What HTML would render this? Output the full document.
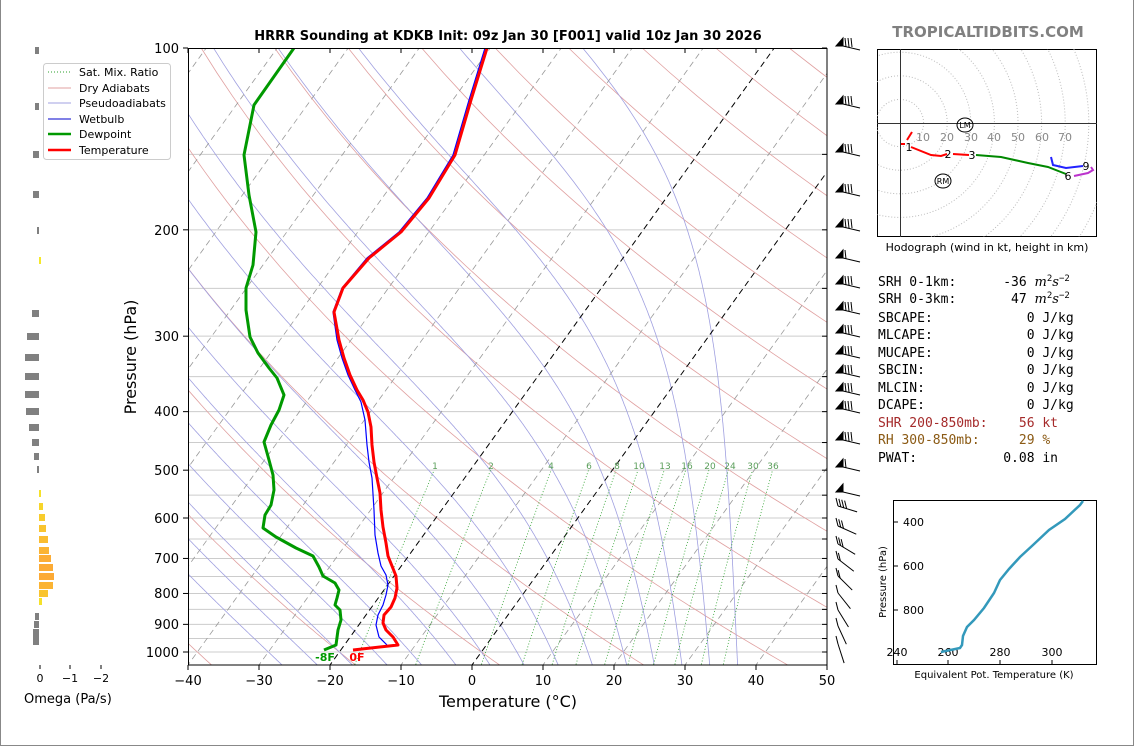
<!DOCTYPE html>
<html><head><meta charset="utf-8"><style>
body{margin:0;background:#fff;}
#wrap{position:relative;width:1132px;height:745px;border-right:1px solid #888;border-bottom:1px solid #888;border-left:1px solid #888;overflow:hidden;background:#fff}
svg{position:absolute;left:0;top:0}
text{font-family:"DejaVu Sans","Liberation Sans",sans-serif}
text.mono{font-family:"DejaVu Sans Mono","Liberation Mono",monospace;font-size:13px}
</style></head><body><div id="wrap">
<svg id="s" width="1134" height="748" viewBox="0 0 1134 748">
<defs><clipPath id="cp"><rect x="187" y="48" width="639" height="617"/></clipPath>
<clipPath id="hc"><rect x="876" y="49" width="220" height="188"/></clipPath></defs>
<g id="bg" clip-path="url(#cp)"></g>
<g clip-path="url(#cp)" fill="none" stroke-linejoin="round">
<polyline stroke="#0000ff" stroke-width="1.2" points="386,645 378,637 375,625 377,615 382,605 385,595 387,585 385,575 380,566 377,553 374,535 373,510 371,478 368,462 366,445 364,420 360,402 354,390 347,375 341,358 336,340 332,312 341,288 366,258 398,232 426,198 452,155 468,100 484,48"/>
<polyline stroke="#009900" stroke-width="3" points="323,650 335,645 337,630 340,620 339,610 334,605 336,598 338,590 334,583 322,576 318,567 312,556 295,548 275,537 262,528 264,515 270,505 273,490 272,475 268,460 263,442 270,425 278,410 283,395 276,378 268,368 257,353 249,337 245,310 245,288 252,265 255,232 248,195 243,155 253,105 293,48"/>
<polyline stroke="#ff0000" stroke-width="3" points="352,650 397,645 392,637 385,630 382,623 383,615 390,607 394,598 396,588 395,576 391,566 387,556 385,543 382,527 380,510 379,493 376,478 373,462 371,445 370,427 367,412 362,400 356,390 349,375 343,358 338,340 333,312 342,288 368,258 400,232 428,198 454,155 470,100 486,48"/>
</g>
<rect x="187.5" y="48.5" width="638.5" height="616.5" fill="none" stroke="#000" stroke-width="1"/>
<g id="ticks" stroke="#000"></g>
<g font-size="13" text-anchor="end" fill="#000">
<text x="178" y="53">100</text><text x="178" y="235">200</text><text x="178" y="341">300</text><text x="178" y="416">400</text><text x="178" y="475">500</text><text x="178" y="523">600</text><text x="178" y="563">700</text><text x="178" y="598">800</text><text x="178" y="629">900</text><text x="178" y="657">1000</text>
</g>
<g font-size="13" text-anchor="middle">
<text x="187" y="685">−40</text><text x="258" y="685">−30</text><text x="329" y="685">−20</text><text x="400" y="685">−10</text><text x="471" y="685">0</text><text x="542" y="685">10</text><text x="613" y="685">20</text><text x="684" y="685">30</text><text x="755" y="685">40</text><text x="826" y="685">50</text>
</g>
<text x="507" y="707" font-size="16" text-anchor="middle">Temperature (°C)</text>
<text transform="translate(135,357) rotate(-90)" font-size="16" text-anchor="middle">Pressure (hPa)</text>
<text x="507" y="40" font-size="13" font-weight="bold" text-anchor="middle">HRRR Sounding at KDKB Init: 09z Jan 30 [F001] valid 10z Jan 30 2026</text>
<g font-size="9" fill="#5a9e5a" text-anchor="middle">
<text x="434" y="469">1</text><text x="490" y="469">2</text><text x="550" y="469">4</text><text x="588" y="469">6</text><text x="616" y="469">8</text><text x="638" y="469">10</text><text x="664" y="469">13</text><text x="686" y="469">16</text><text x="709" y="469">20</text><text x="729" y="469">24</text><text x="752" y="469">30</text><text x="772" y="469">36</text>
</g>
<text x="324" y="661" font-size="11" font-weight="bold" fill="#009900" text-anchor="middle">-8F</text>
<text x="356" y="661" font-size="11" font-weight="bold" fill="#ff0000" text-anchor="middle">0F</text>
<rect x="42.5" y="63.5" width="127" height="96" rx="3" fill="#fff" stroke="#ccc"/>
<g font-size="11" fill="#000">
<line x1="47" y1="72" x2="70" y2="72" stroke="#2ca02c" stroke-dasharray="1,2"/><text x="78" y="76">Sat. Mix. Ratio</text>
<line x1="47" y1="88" x2="70" y2="88" stroke="#e0a0a0"/><text x="78" y="92">Dry Adiabats</text>
<line x1="47" y1="103" x2="70" y2="103" stroke="#a0a0e0"/><text x="78" y="107">Pseudoadiabats</text>
<line x1="47" y1="119" x2="70" y2="119" stroke="#0000cc"/><text x="78" y="123">Wetbulb</text>
<line x1="47" y1="134" x2="70" y2="134" stroke="#009900" stroke-width="2.5"/><text x="78" y="138">Dewpoint</text>
<line x1="47" y1="150" x2="70" y2="150" stroke="#ff0000" stroke-width="2.5"/><text x="78" y="154">Temperature</text>
</g>
<g id="omega"></g>
<g font-size="11" text-anchor="middle"><line x1="39" y1="665" x2="39" y2="669" stroke="#000"/><line x1="69" y1="665" x2="69" y2="669" stroke="#000"/><line x1="100" y1="665" x2="100" y2="669" stroke="#000"/>
<text x="39" y="682">0</text><text x="69" y="682">−1</text><text x="100" y="682">−2</text></g>
<text x="23" y="703" font-size="13">Omega (Pa/s)</text>
<g id="barbs" stroke="#000" fill="#000" stroke-width="1"></g>
<text x="987" y="37" font-size="15" font-weight="bold" fill="#808080" text-anchor="middle">TROPICALTIDBITS.COM</text>
<rect x="876.5" y="49.5" width="219" height="187" fill="#fff" stroke="#000"/>
<g id="rings" clip-path="url(#hc)" fill="none" stroke="#bbb" stroke-dasharray="1,2"></g>
<g clip-path="url(#hc)">
<line x1="899.5" y1="49" x2="899.5" y2="237" stroke="#333"/><line x1="876" y1="123.5" x2="1096" y2="123.5" stroke="#333"/>
<g font-size="11" fill="#888" text-anchor="middle"><text x="922" y="141">10</text><text x="946" y="141">20</text><text x="970" y="141">30</text><text x="993" y="141">40</text><text x="1017" y="141">50</text><text x="1041" y="141">60</text><text x="1064" y="141">70</text></g>
<g fill="none" stroke-width="2">
<polyline stroke="#ff0000" points="911,132 906,140"/><polyline stroke="#ff0000" points="900,144 904,144"/>
<polyline stroke="#ff0000" points="910,147 930,155 940,156 946,154"/><polyline stroke="#ff0000" points="952,154 968,155"/>
<polyline stroke="#008800" points="975,155 1000,157 1027,163 1047,167 1065,174"/>
<polyline stroke="#bb33cc" points="1073,176 1087,173 1092,170 1090,167"/>
<polyline stroke="#2222ff" points="1050,157 1052,165 1065,168 1082,166"/>
</g>
<g font-size="11" text-anchor="middle"><text x="908" y="151">1</text><text x="947" y="158">2</text><text x="971" y="159">3</text><text x="1067" y="180">6</text><text x="1085" y="170">9</text></g>
<ellipse cx="964" cy="125" rx="8" ry="7" fill="none" stroke="#000"/><text x="964" y="128" font-size="8" text-anchor="middle">LM</text>
<ellipse cx="942" cy="181" rx="8" ry="7" fill="none" stroke="#000"/><text x="942" y="184" font-size="8" text-anchor="middle">RM</text>
</g>
<text x="986" y="251" font-size="11" text-anchor="middle">Hodograph (wind in kt, height in km)</text>
<g fill="#000">
<text class="mono" x="877" y="286" xml:space="preserve">SRH 0-1km:      -36 <tspan font-style="italic" font-family="DejaVu Serif,serif">m</tspan><tspan font-size="9" dy="-5">2</tspan><tspan font-style="italic" font-family="DejaVu Serif,serif" dy="5">s</tspan><tspan font-size="9" dy="-5">−2</tspan></text>
<text class="mono" x="877" y="303" xml:space="preserve">SRH 0-3km:       47 <tspan font-style="italic" font-family="DejaVu Serif,serif">m</tspan><tspan font-size="9" dy="-5">2</tspan><tspan font-style="italic" font-family="DejaVu Serif,serif" dy="5">s</tspan><tspan font-size="9" dy="-5">−2</tspan></text>
<text class="mono" x="877" y="322" xml:space="preserve">SBCAPE:            0 J/kg</text>
<text class="mono" x="877" y="339" xml:space="preserve">MLCAPE:            0 J/kg</text>
<text class="mono" x="877" y="357" xml:space="preserve">MUCAPE:            0 J/kg</text>
<text class="mono" x="877" y="374" xml:space="preserve">SBCIN:             0 J/kg</text>
<text class="mono" x="877" y="392" xml:space="preserve">MLCIN:             0 J/kg</text>
<text class="mono" x="877" y="409" xml:space="preserve">DCAPE:             0 J/kg</text>
<text class="mono" x="877" y="427" xml:space="preserve" fill="#a52a2a">SHR 200-850mb:    56 kt</text>
<text class="mono" x="877" y="444" xml:space="preserve" fill="#8b5a14">RH 300-850mb:     29 %</text>
<text class="mono" x="877" y="462" xml:space="preserve">PWAT:           0.08 in</text>
</g>
<rect x="892.5" y="500.5" width="203" height="164" fill="#fff" stroke="#000"/>
<g stroke="#000"><line x1="893" y1="522" x2="897" y2="522"/><line x1="893" y1="566" x2="897" y2="566"/><line x1="893" y1="610" x2="897" y2="610"/>
<line x1="896" y1="660" x2="896" y2="664"/><line x1="947" y1="660" x2="947" y2="664"/><line x1="999" y1="660" x2="999" y2="664"/><line x1="1051" y1="660" x2="1051" y2="664"/></g>
<g font-size="11"><text x="902" y="526">400</text><text x="902" y="570">600</text><text x="902" y="614">800</text>
<g text-anchor="middle"><text x="896" y="656">240</text><text x="947" y="656">260</text><text x="999" y="656">280</text><text x="1051" y="656">300</text></g></g>
<polyline fill="none" stroke="#3399bb" stroke-width="2.5" points="940,652 959,648 961,645 962,636 966,627 973,620 983,608 993,593 999,580 1008,569 1019,557 1032,545 1048,530 1064,519 1079,505 1082,501"/>
<text transform="translate(885,582) rotate(-90)" font-size="10" text-anchor="middle">Pressure (hPa)</text>
<text x="993" y="678" font-size="10" text-anchor="middle">Equivalent Pot. Temperature (K)</text>
</svg>
</div>
<script>
var NS="http://www.w3.org/2000/svg";
function Y(p){return 48+604*Math.log10(p/100);}
function X(T,p){return 187+(T+40)*7.1+0.72*(665-Y(p));}
function el(par,tag,a){var e=document.createElementNS(NS,tag);for(var k in a)e.setAttribute(k,a[k]);par.appendChild(e);return e;}
var bg=document.getElementById('bg');
function pl(pts,a){a.points=pts.map(function(q){return q[0].toFixed(1)+','+q[1].toFixed(1)}).join(' ');a.fill='none';el(bg,'polyline',a);}
for(var p=100;p<=1000;p+=50){el(bg,'line',{x1:187,x2:826,y1:Y(p),y2:Y(p),stroke:'#ccc','stroke-width':1});}
for(var t0=-40;t0<=240;t0+=20){var th=t0+273.15,pts=[];for(var p=1060;p>=95;p-=10){pts.push([X(th*Math.pow(p/1000,0.286)-273.15,p),Y(p)]);}pl(pts,{stroke:'#e0a0a0','stroke-width':0.8});}
function es(T){return 6.112*Math.exp(17.67*T/(T+243.5));}
function dTdp(Tc,p){var T=Tc+273.15,e=es(Tc),rs=0.622*e/(p-e),Lv=2.5e6,Rd=287,Cp=1004;return (Rd*T+Lv*rs)/(p*(Cp+Lv*Lv*rs*0.622/(Rd*T*T)));}
[-30,-25,-20,-15,-10,-5,0,5,10,15,20,24,28,32,36].forEach(function(t0){var pts=[],T=t0,p=1000;var dn=[];var T2=t0;for(var q=1000;q<=1060;q+=2){dn.push([X(T2,q),Y(q)]);T2+=dTdp(T2,q)*2;}dn.reverse();pts=dn;
for(p=1000;p>=100;p-=2){pts.push([X(T,p),Y(p)]);T-=dTdp(T,p)*2;}pl(pts,{stroke:'#a0a0e0','stroke-width':0.8});});
for(var t=-120;t<=50;t+=10){var a={x1:X(t,1060),y1:Y(1060),x2:X(t,100),y2:Y(100),stroke:(t==0||t==-20)?'#000':'#999','stroke-width':(t==0||t==-20)?1:0.8,'stroke-dasharray':'6,4'};el(bg,'line',a);}
[1,2,4,6,8,10,13,16,20,24,30,36].forEach(function(w){var pts=[];for(var p=1060;p>=500;p-=10){var e=w*p/(622+w),l=Math.log(e/6.112),Td=243.5*l/(17.67-l);pts.push([X(Td,p),Y(p)]);}pl(pts,{stroke:'#2ca02c','stroke-width':0.8,'stroke-dasharray':'1,2'});});
var tk=document.getElementById('ticks');
[100,200,300,400,500,600,700,800,900,1000].forEach(function(p){el(tk,'line',{x1:182,x2:187,y1:Y(p),y2:Y(p)});});
for(var p=100;p<=1000;p+=50){el(tk,'line',{x1:821,x2:826,y1:Y(p),y2:Y(p)});}
for(var t=-40;t<=50;t+=10){var x=187+(t+40)*7.1;el(tk,'line',{x1:x,x2:x,y1:665,y2:670});el(tk,'line',{x1:x,x2:x,y1:48,y2:53});}
var om=document.getElementById('omega');
[[50,34],[106,34],[154,32],[194,32],[230,36],[313,31],[336,26],[357,24],[376,24],[394,24],[411,25],[427,28],[442,31],[456,33],[469,36],[616,34],[624,33],[632,32],[640,32]].forEach(function(b){el(om,'rect',{x:b[1],y:b[0]-3,width:38-b[1],height:(b[0]>=632?8:7),fill:'#808080'});});
[[260,40,'#f5e82a'],[493,40,'#f5e12a'],[506,42,'#f7d52a'],[517,44,'#f8cc2c'],[528,45,'#f9c42e'],[539,47,'#fabd30'],[550,48,'#fbb433'],[558,50,'#fcad35'],[567,52,'#fcab35'],[576,53,'#fcaa35'],[585,52,'#fbb433'],[593,47,'#f9c42e'],[601,41,'#f5e12a']].forEach(function(b){el(om,'rect',{x:38,y:b[0]-3,width:b[1]-38,height:7,fill:b[2]});});
var bb=document.getElementById('barbs');
[42,100,148,188,223,254,280,306,329,350,369,387,405,436,463,488].forEach(function(y,i){
 el(bb,'polygon',{points:(835)+','+(y+4)+' '+(842)+','+(y+4)+' '+(842)+','+(y-4)});
 el(bb,'line',{x1:842,y1:y+4,x2:859,y2:y+8,fill:'none'});
 var n=(i==5||i==14)?1:(i==15?0:3);for(var k=0;k<n;k++){var bx=845+k*3;el(bb,'line',{x1:bx,y1:y+5,x2:bx-1,y2:y-4,fill:'none'});}
});
[[510,4],[530,3],[548,3],[563,2],[580,2],[597,1],[614,1],[630,1],[648,1]].forEach(function(b,i){var y=b[0];var ang=0.3+i*0.12;var dx=Math.cos(ang)*20,dy=Math.sin(ang)*20;
 el(bb,'line',{x1:837,y1:y-4,x2:837+dx,y2:y-4+dy,fill:'none'});
 for(var k=0;k<b[1];k++){var sx=837+dx*k*0.15,sy=y-4+dy*k*0.15;el(bb,'line',{x1:sx,y1:sy,x2:sx-2,y2:sy-8,fill:'none'});}});
var rg=document.getElementById('rings');for(var k=1;k<=10;k++)el(rg,'circle',{cx:899,cy:123,r:23.6*k});
</script>
</body></html>
